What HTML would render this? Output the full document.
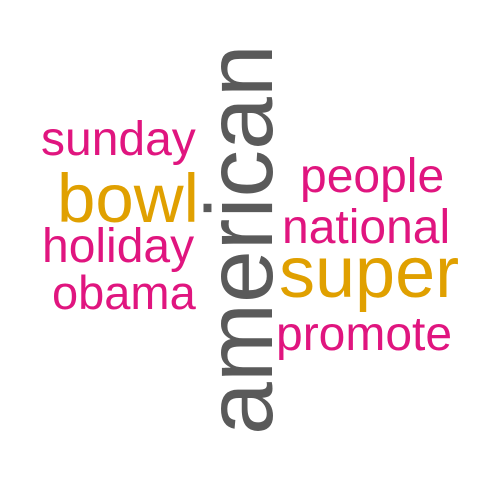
<!DOCTYPE html>
<html>
<head>
<meta charset="utf-8">
<style>
  html,body{margin:0;padding:0;background:#fff;}
  svg{display:block;}
  text{font-family:"Liberation Sans",Arial,sans-serif;}
</style>
</head>
<body>
<svg width="480" height="480" viewBox="0 0 480 480">
  <rect width="480" height="480" fill="#ffffff"/>
  <text x="0" y="0" font-size="95" fill="#5a5a5a" transform="translate(272,435) rotate(-90)">american</text>
  <text x="57" y="222" font-size="69" fill="#e0a000">bowl</text>
  <text x="279" y="297" font-size="72" fill="#e0a000">super</text>
  <text x="41" y="155" font-size="48" fill="#e0157f">sunday</text>
  <text x="42" y="262" font-size="48" fill="#e0157f">holiday</text>
  <text x="52" y="309" font-size="47" fill="#e0157f">obama</text>
  <text x="300" y="192" font-size="48" fill="#e0157f">people</text>
  <text x="282" y="243" font-size="48" fill="#e0157f">national</text>
  <text x="276" y="350" font-size="48" fill="#e0157f">promote</text>
</svg>
</body>
</html>
